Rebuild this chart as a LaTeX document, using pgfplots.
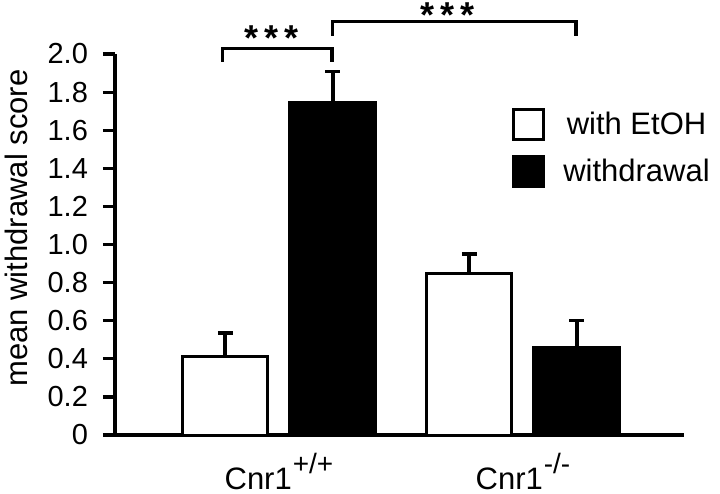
\documentclass[border=0pt]{standalone}
\usepackage{fontspec}
\setmainfont{Liberation Sans}
\usepackage{pgfplots}
\pgfplotsset{compat=1.18}
\newcommand\ticksize{\fontsize{14.5}{16}\selectfont}
\newcommand\labsize{\fontsize{15.5}{18}\selectfont}
\newcommand\sups[1]{\hspace{0.5pt}\raisebox{8pt}{\fontsize{14}{14}\selectfont #1}}

\begin{document}
\begin{tikzpicture}
\path[use as bounding box] (-57.5pt,-29.5pt) rectangle (302.5pt,217.5pt);
\begin{axis}[
  scale only axis, width=284.5pt, height=190.5pt,
  xmin=0.328, xmax=2.66, ymin=0, ymax=2,
  axis x line=bottom, axis y line=left,
  axis line style={-, line width=2.2pt},
  clip=false,
  ybar, bar width=0.35,
  xtick={1,2},
  xticklabels={Cnr1\sups{+/+}, Cnr1\sups{-/-}},
  major x tick style=transparent,
  ytick={0,0.2,0.4,0.6,0.8,1.0,1.2,1.4,1.6,1.8,2.0},
  yticklabels={0,0.2,0.4,0.6,0.8,1.0,1.2,1.4,1.6,1.8,2.0},
  tick align=outside, major tick length=6pt,
  every tick/.style={black, line width=1.6pt},
  yticklabel style={font=\ticksize, xshift=-4pt},
  xticklabel style={font=\labsize, anchor=base, inner sep=0pt, yshift=-21pt},
  ylabel={mean withdrawal score},
  ylabel style={font=\labsize, at={(axis description cs:-0.153,0.543)}, anchor=base, inner sep=0pt},
  legend style={at={(axis description cs:0.687,0.870)}, anchor=north west,
    draw=none, fill=none, font=\labsize, row sep=7pt,
    nodes={inner xsep=0pt, inner ysep=0pt},
    /tikz/every odd column/.append style={column sep=9pt}},
  legend image code/.code={\draw[#1, line width=1.5pt] (0pt,-7.5pt) rectangle (15pt,7.5pt);},
]
  \addplot[fill=white, draw=black, line width=1.5pt, bar shift=-0.22,
    error bars/.cd, y dir=plus, y explicit,
    error bar style={line width=2pt, black},
    error mark options={rotate=90, line width=1.6pt, mark size=3.75pt, black}]
    coordinates {(1,0.41) +- (0,0.125) (2,0.85) +- (0,0.10)};
  \addplot[fill=black, draw=black, line width=1.5pt, bar shift=0.22,
    error bars/.cd, y dir=plus, y explicit,
    error bar style={line width=2pt, black},
    error mark options={rotate=90, line width=1.6pt, mark size=3.75pt, black}]
    coordinates {(1,1.743) +- (0,0.167) (2,0.457) +- (0,0.143)};
  \legend{with EtOH, withdrawal}

  % significance brackets
  \draw[line width=1.6pt] (axis cs:0.77,1.96) -- (axis cs:0.77,2.03) -- (axis cs:1.217,2.03) -- (axis cs:1.217,1.96);
  \draw[line width=1.6pt] (axis cs:1.221,2.095) -- (axis cs:1.221,2.17) -- (axis cs:2.217,2.17) -- (axis cs:2.217,2.095);
  \node[anchor=base, inner sep=0pt, font=\fontsize{18}{18}\selectfont\bfseries] at (axis cs:0.971,2.02) {*\hspace{3pt}*\hspace{3pt}*};
  \node[anchor=base, inner sep=0pt, font=\fontsize{18}{18}\selectfont\bfseries] at (axis cs:1.689,2.14) {*\hspace{3pt}*\hspace{3pt}*};
\end{axis}
\end{tikzpicture}
\end{document}
